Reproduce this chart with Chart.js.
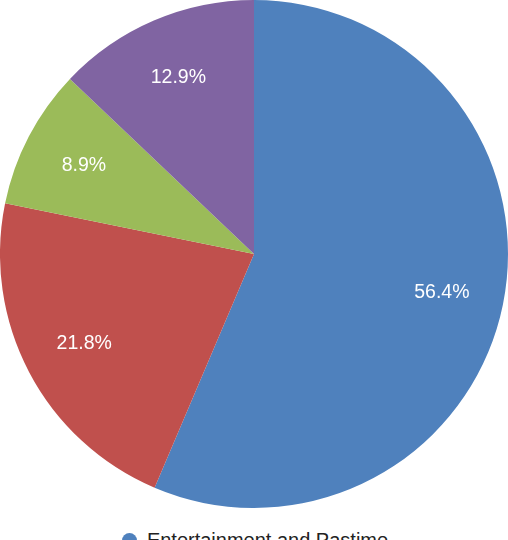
<!DOCTYPE html>
<html><head><meta charset="utf-8">
<script src="https://cdn.jsdelivr.net/npm/chart.js@4"></script>
<style>
html,body{margin:0;padding:0;background:#fff;overflow:hidden;width:508px;height:540px;}
#wrap{position:absolute;left:0;top:0;width:508px;height:508px;}
#legend{position:absolute;left:0;top:527px;width:508px;font-family:"Liberation Sans",Arial,sans-serif;font-size:20px;color:#222;}
.item{display:flex;justify-content:center;align-items:center;height:26px;line-height:24px;padding-left:2px;}
.dot{width:15px;height:15px;border-radius:50%;margin-right:10px;}
</style></head>
<body>
<div id="wrap"><canvas id="c" width="508" height="508"></canvas></div>
<div id="legend"></div>
<script>
const categories = ["Entertainment and Pastime", "Information and Research", "Communication", "Shopping and Services"];
const values = [56.4, 21.8, 8.9, 12.9];
const colors = ["#4F81BD", "#C0504D", "#9BBB59", "#8064A2"];

const labelPlugin = {
  id: 'pctLabels',
  afterDatasetsDraw(chart) {
    const ctx = chart.ctx;
    const meta = chart.getDatasetMeta(0);
    ctx.save();
    ctx.font = '19.5px "Liberation Sans", Arial, sans-serif';
    ctx.fillStyle = '#fff';
    ctx.textAlign = 'center';
    ctx.textBaseline = 'middle';
    meta.data.forEach((arc, i) => {
      const p = arc.getProps(['x','y','startAngle','endAngle','outerRadius'], true);
      const mid = (p.startAngle + p.endAngle) / 2;
      const r = p.outerRadius * 0.755;
      ctx.fillText(values[i].toFixed(1) + '%', p.x + Math.cos(mid) * r, p.y + Math.sin(mid) * r);
    });
    ctx.restore();
  }
};

new Chart(document.getElementById('c'), {
  type: 'pie',
  data: { labels: categories, datasets: [{ data: values, backgroundColor: colors, borderWidth: 0 }] },
  options: {
    responsive: false,
    animation: false,
    layout: { padding: 0 },
    plugins: { legend: { display: false }, tooltip: { enabled: false } }
  },
  plugins: [labelPlugin]
});

const lg = document.getElementById('legend');
categories.forEach((c, i) => {
  const d = document.createElement('div');
  d.className = 'item';
  d.innerHTML = '<span class="dot" style="background:' + colors[i] + '"></span><span>' + c + '</span>';
  lg.appendChild(d);
});
</script>
</body></html>
